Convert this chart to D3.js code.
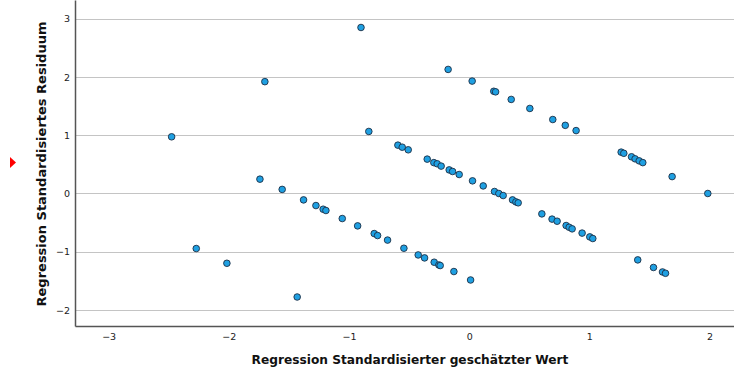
<!DOCTYPE html>
<html lang="de">
<head>
<meta charset="UTF-8">
<title>Streudiagramm</title>
<style>
  body { margin: 0; background: #fff; }
  svg { display: block; font-family: "DejaVu Sans", sans-serif; }
</style>
</head>
<body>
<svg width="734" height="371"></svg>
<script src="https://d3js.org/d3.v7.min.js"></script>
<script>

// standardisierter geschaetzter Wert (x)
var predicted = [
  -2.476, -2.271, -2.016, -1.741, -1.70, -1.556, -1.431, -1.378, -1.275, -1.215,
  -1.192, -1.056, -0.928, -0.90, -0.835, -0.79, -0.762, -0.679, -0.593, -0.557,
  -0.543, -0.507, -0.424, -0.371, -0.349, -0.294, -0.291, -0.266, -0.252, -0.241,
  -0.233, -0.175, -0.166, -0.138, -0.127, -0.083, 0.012, 0.025, 0.028, 0.117,
  0.205, 0.22, 0.211, 0.247, 0.283, 0.35, 0.361, 0.389, 0.408, 0.505,
  0.605, 0.69, 0.696, 0.732, 0.80, 0.807, 0.832, 0.857, 0.89, 0.94,
  1.004, 1.029, 1.265, 1.287, 1.351, 1.381, 1.403, 1.415, 1.445, 1.534,
  1.609, 1.634, 1.689, 1.986
];

// standardisiertes Residuum (y)
var residual = [
  0.973, -0.945, -1.198, 0.246, 1.92, 0.07, -1.777, -0.11, -0.207, -0.27,
  -0.292, -0.43, -0.556, 2.85, 1.065, -0.688, -0.722, -0.80, 0.83, 0.795,
  -0.94, 0.75, -1.055, -1.106, 0.59, 0.53, -1.18, 0.51, -1.227, -1.237,
  0.47, 2.13, 0.405, 0.378, -1.34, 0.326, -1.485, 1.93, 0.217, 0.13,
  1.755, 1.745, 0.034, 0.0, -0.035, 1.615, -0.11, -0.144, -0.16, 1.46,
  -0.35, -0.44, 1.27, -0.476, 1.17, -0.55, -0.58, -0.607, 1.08, -0.68,
  -0.745, -0.773, 0.71, 0.69, 0.63, 0.595, -1.14, 0.56, 0.53, -1.27,
  -1.347, -1.37, 0.29, 0.0
];

var xTicks = [-3, -2, -1, 0, 1, 2];
var yTicks = [-2, -1, 0, 1, 2, 3];

var xTitle = 'Regression Standardisierter geschätzter Wert';
var yTitle = 'Regression Standardisiertes Residuum';

var svg = d3.select('svg');

var plotLeft = 75, plotRight = 734, plotTop = 0, plotBottom = 326;

var x = d3.scaleLinear().domain([-3.28, 2.204]).range([plotLeft, plotRight]);
var y = d3.scaleLinear().domain([-2.275, 3.322]).range([plotBottom, plotTop]);

// horizontal grid lines
svg.append('g')
  .selectAll('line')
  .data(yTicks)
  .enter()
  .append('line')
  .attr('x1', plotLeft)
  .attr('x2', plotRight)
  .attr('y1', function(d) { return Math.round(y(d)) + 0.5; })
  .attr('y2', function(d) { return Math.round(y(d)) + 0.5; })
  .style('stroke', '#c4c4c4')
  .style('stroke-width', 1.2);

// axes without tick marks
var xAxis = svg.append('g')
  .attr('transform', 'translate(0,' + plotBottom + ')')
  .call(d3.axisBottom(x).tickValues(xTicks).tickSize(0).tickPadding(7).tickFormat(d3.format('d')));

var yAxis = svg.append('g')
  .attr('transform', 'translate(' + plotLeft + ',0)')
  .call(d3.axisLeft(y).tickValues(yTicks).tickSize(0).tickPadding(5).tickFormat(d3.format('d')));

[xAxis, yAxis].forEach(function(a) {
  a.select('.domain').style('stroke', '#555').style('stroke-width', 1.5);
  a.selectAll('text').style('font-size', '9.5px').style('fill', '#222')
    .style('font-family', '"DejaVu Sans", sans-serif');
});

// points
var pts = predicted.map(function(d, i) { return [d, residual[i]]; });

svg.append('g')
  .selectAll('circle')
  .data(pts)
  .enter()
  .append('circle')
  .attr('cx', function(d) { return x(d[0]); })
  .attr('cy', function(d) { return y(d[1]); })
  .attr('r', 3.3)
  .style('fill', '#1fa0e2')
  .style('stroke', '#1d2f45')
  .style('stroke-width', 0.9);

// axis titles
svg.append('text')
  .attr('x', 410)
  .attr('y', 364)
  .attr('text-anchor', 'middle')
  .style('font-size', '12.2px')
  .style('font-weight', 'bold')
  .style('fill', '#111')
  .text(xTitle);

svg.append('text')
  .attr('transform', 'translate(46,164) rotate(-90)')
  .attr('text-anchor', 'middle')
  .style('font-size', '13px')
  .style('font-weight', 'bold')
  .style('fill', '#111')
  .text(yTitle);

// small red marker at the left edge
svg.append('path')
  .attr('d', 'M10,157 L16,162.5 L10,168 Z')
  .style('fill', '#f00');

</script>
</body>
</html>
